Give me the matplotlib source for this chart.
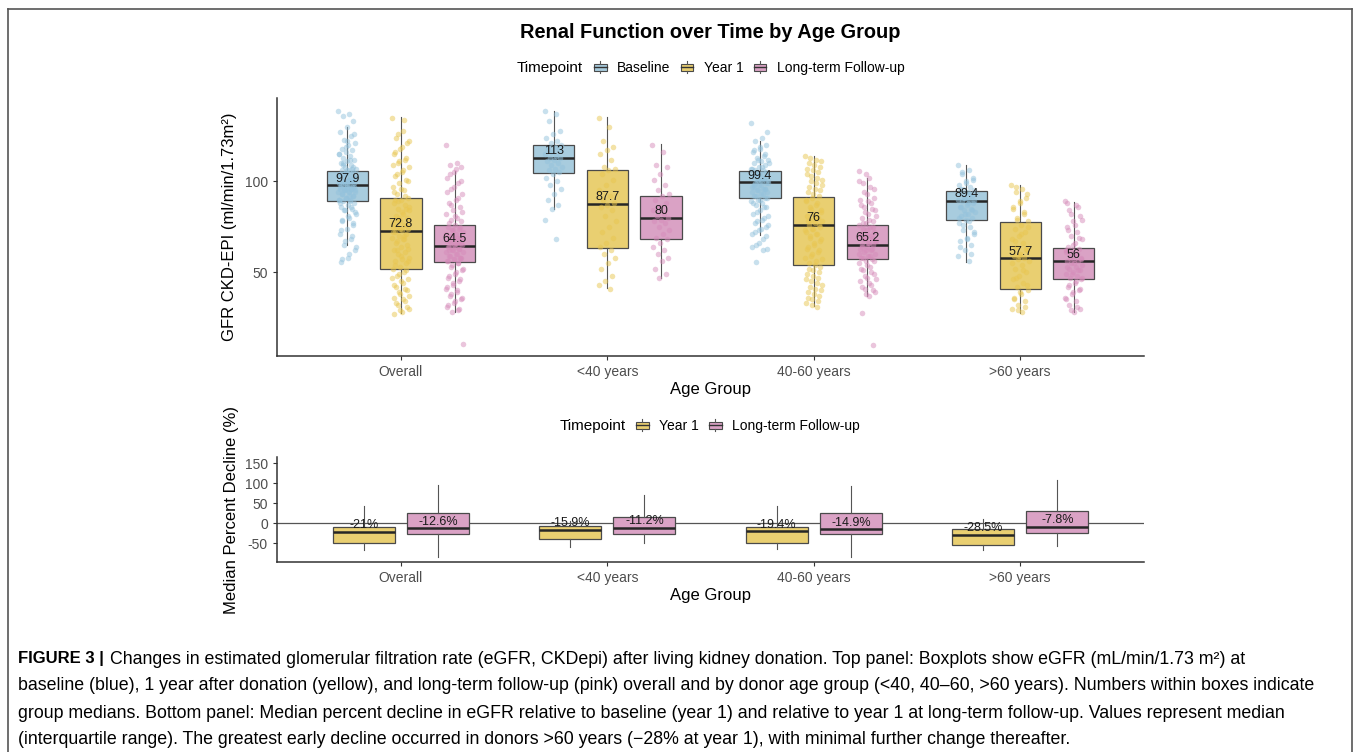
import matplotlib
matplotlib.use("Agg")
import matplotlib.pyplot as plt
from matplotlib.patches import Rectangle, Patch
from matplotlib.lines import Line2D
from matplotlib.legend_handler import HandlerBase

plt.rcParams['font.family'] = ['Liberation Sans', 'DejaVu Sans']
plt.rcParams['axes.unicode_minus'] = False

groups = ["Overall", "<40 years", "40-60 years", ">60 years"]
timepoints = ["Baseline", "Year 1", "Long-term Follow-up"]

# top panel: eGFR box stats per age group
base_med = [97.9, 113, 99.4, 89.4]
base_q1 = [89.0, 104.8, 90.7, 79.0]
base_q3 = [105.7, 120.0, 105.7, 94.7]
base_lo = [65.0, 84.8, 70.2, 55.5]
base_hi = [130.0, 138.5, 122.4, 108.8]

y1_med = [72.8, 87.7, 76, 57.7]
y1_q1 = [51.7, 63.2, 53.8, 41.0]
y1_q3 = [90.7, 106.3, 91.2, 77.9]
y1_lo = [27.5, 41.2, 31.2, 27.5]
y1_hi = [135.2, 135.2, 113.7, 97.8]

lt_med = [64.5, 80, 65.2, 56]
lt_q1 = [55.5, 68.0, 57.0, 46.0]
lt_q3 = [75.8, 92.1, 76.0, 63.4]
lt_lo = [28.0, 47.0, 36.8, 28.0]
lt_hi = [105.5, 120.5, 101.9, 88.7]

# individual donors (approximate, read off the jittered clouds)
ov_base = [139, 137, 136, 133, 130, 127, 125, 123, 121, 120, 118, 117, 116, 115, 114, 113, 112, 111, 110, 109,
           108, 107, 106, 106, 105, 104, 104, 103, 102, 102, 101, 100, 100, 99, 99, 98, 98, 97, 97, 96, 96, 95,
           94, 94, 93, 92, 91, 90, 90, 89, 88, 87, 86, 85, 84, 82, 80, 78, 76, 74, 71, 68, 65, 62, 58, 55.5,
           107, 105, 103, 101, 100, 99, 98, 97, 96, 95, 95, 94, 93, 92, 91, 90, 89, 104, 102, 100, 98, 97, 96,
           94, 92, 110, 108, 106, 88, 86, 84, 83, 81, 79, 77, 119, 115, 112, 109, 126, 122, 73, 70, 67, 64, 60, 57]
ov_y1 = [135, 128, 124, 121, 118, 115, 112, 110, 108, 105, 103, 101, 99, 97, 95, 93, 91, 90, 88, 87, 85, 84, 82,
         81, 80, 78, 77, 76, 75, 74, 73, 72, 71, 70, 69, 68, 66, 65, 64, 62, 61, 60, 58, 57, 56, 55, 53, 52, 50,
         48, 46, 45, 43, 41, 39, 37, 35, 33, 31, 29, 27,
         134, 126, 122, 119, 116, 113, 111, 109, 106, 104, 100, 96, 94, 92, 89, 86, 83, 79, 76, 74, 72, 70, 67,
         63, 59, 54, 51, 49, 47, 44, 42, 40, 38, 36, 34, 32, 30, 28, 90, 85, 80, 75, 68, 62, 56]
ov_lt = [120, 110, 109, 108, 105, 102, 99, 96, 93, 90, 88, 86, 84, 82, 80, 79, 78, 76, 75, 74, 73, 72, 71, 70, 69,
         68, 67, 66, 66, 65, 64, 64, 63, 62, 61, 60, 59, 58, 57, 56, 55, 54, 52, 50, 48, 46, 44, 42, 40, 38, 36,
         34, 32, 30, 28, 10.3,
         107, 104, 100, 97, 94, 91, 87, 83, 81, 77, 75, 73, 71, 69, 67, 66, 65, 64, 63, 62, 61, 60, 59, 58, 57,
         56, 55, 53, 51, 49, 47, 45, 43, 41, 39, 37, 35, 33, 31, 29, 70, 68, 66, 62, 58]
u40_base = [139, 137, 133, 128, 126, 124, 122, 121, 120, 119, 118, 117, 116, 115, 114, 113, 113, 112, 111, 110,
            109, 108, 107, 106, 105, 104, 102, 100, 98, 96, 93, 90, 87, 85, 79, 68]
u40_y1 = [135, 130, 122, 119, 117, 115, 112, 108, 107, 106, 104, 101, 98, 95, 92, 90, 88, 87, 86, 84, 81, 78, 75,
          72, 69, 66, 64, 62, 60, 58, 55, 52, 48, 45, 43, 41]
u40_lt = [120, 116, 109, 108, 104, 101, 98, 95, 93, 92, 90, 88, 86, 84, 82, 81, 80, 79, 78, 77, 75, 73, 71, 69,
          68, 66, 64, 62, 60, 58, 56, 52, 49, 47]
mid_base = [132, 124, 122, 120, 118, 116, 114, 113, 112, 111, 110, 109, 108, 107, 106, 105, 104, 104, 103, 102,
            101, 101, 100, 99, 99, 98, 97, 96, 95, 94, 93, 92, 91, 90, 89, 88, 87, 86, 84, 82, 80, 78, 76, 74,
            72, 70, 66, 64, 62, 55.5,
            127, 119, 117, 115, 112, 110, 108, 106, 105, 104, 103, 102, 100, 99, 98, 97, 96, 95, 94, 93, 92, 91,
            90, 88, 86, 83, 81, 79, 77, 75, 73, 71, 68, 65, 63, 101, 98, 96, 103, 107]
mid_y1 = [114, 112, 110, 108, 106, 104, 102, 100, 98, 96, 94, 92, 91, 89, 87, 86, 84, 82, 81, 80, 79, 78, 77, 76,
          75, 74, 72, 71, 70, 68, 66, 64, 62, 60, 58, 56, 55, 53, 51, 49, 47, 45, 43, 41, 39, 37, 35, 33, 31,
          113, 111, 109, 107, 105, 103, 101, 99, 97, 95, 93, 90, 88, 85, 83, 80, 78, 76, 74, 73, 71, 69, 67, 65,
          63, 61, 59, 57, 54, 52, 50, 48, 46, 44, 42, 40, 38, 36, 34, 32]
mid_lt = [105.5, 102, 99, 96, 93, 90, 88, 86, 84, 82, 80, 78, 77, 76, 75, 74, 72, 71, 70, 69, 68, 67, 66, 65, 65,
          64, 63, 62, 61, 60, 59, 58, 57, 56, 55, 53, 51, 49, 47, 45, 43, 41, 39, 37, 27.7, 10.1,
          104, 100, 97, 94, 91, 89, 87, 85, 83, 81, 79, 77, 75, 73, 71, 70, 68, 67, 66, 64, 63, 62, 60, 59, 58,
          56, 54, 52, 50, 48, 46, 44, 42, 40, 38]
o60_base = [109, 106, 104, 102, 100, 98, 97, 96, 95, 94, 93, 92, 91, 90, 90, 89, 88, 87, 86, 85, 84, 83, 82, 81,
            80, 79, 77, 75, 73, 71, 69, 67, 65, 62, 59, 56,
            105, 101, 99, 96, 93, 91, 89, 88, 86, 84, 82, 80, 78, 76, 72, 68, 64, 60]
o60_y1 = [98, 96, 94, 91, 88, 85, 82, 80, 78, 76, 74, 72, 70, 68, 66, 64, 62, 60, 59, 58, 57, 56, 54, 52, 50, 48,
          46, 44, 42, 40, 38, 36, 34, 32, 30, 28,
          97, 93, 89, 86, 83, 79, 75, 71, 67, 63, 59, 55, 51, 47, 43, 39, 35, 31, 29]
o60_lt = [89, 87, 84, 81, 78, 75, 72, 70, 68, 66, 64, 63, 62, 61, 60, 59, 58, 57, 56, 56, 55, 54, 53, 52, 51, 50,
          49, 48, 47, 46, 44, 42, 40, 38, 36, 34, 32, 30, 28,
          88, 86, 82, 79, 76, 73, 69, 65, 62, 60, 58, 57, 55, 53, 51, 49, 47, 45, 43, 41, 39, 35, 31, 29]

# bottom panel: percent decline box stats
y1_dmed = [-21, -15.9, -19.4, -28.5]
y1_dq1 = [-48.3, -38.3, -48.3, -52.5]
y1_dq3 = [-8.3, -5.8, -8.3, -15.0]
y1_dlo = [-65, -59, -64, -66]
y1_dhi = [43, 6.7, 43, 10.8]

lt_dmed = [-12.6, -11.2, -14.9, -7.8]
lt_dq1 = [-26.7, -25.8, -26.7, -24.2]
lt_dq3 = [26.7, 16.7, 26.7, 31.5]
lt_dlo = [-83, -50, -83, -56]
lt_dhi = [95, 70.8, 94, 108]

caption_lines = [
    "Changes in estimated glomerular filtration rate (eGFR, CKDepi) after living kidney donation. Top panel: Boxplots show eGFR (mL/min/1.73 m\u00b2) at",
    "baseline (blue), 1 year after donation (yellow), and long-term follow-up (pink) overall and by donor age group (<40, 40\u201360, >60 years). Numbers within boxes indicate",
    "group medians. Bottom panel: Median percent decline in eGFR relative to baseline (year 1) and relative to year 1 at long-term follow-up. Values represent median",
    "(interquartile range). The greatest early decline occurred in donors >60 years (\u221228% at year 1), with minimal further change thereafter.",
]

box_fill = {"Baseline": "#A8CCDE", "Year 1": "#E9CF71", "Long-term Follow-up": "#DAA2C5"}
pt_col = {"Baseline": "#93C2DC", "Year 1": "#E8C650", "Long-term Follow-up": "#D68CBA"}
edge = "#4a4a4a"

W, H = 1356, 752
fig = plt.figure(figsize=(W / 100, H / 100), dpi=100)


def fx(px):
    return px / W


def fy(py):
    return 1 - py / H


def make_stats(med, q1, q3, lo, hi):
    return [dict(med=med[i], q1=q1[i], q3=q3[i], whislo=lo[i], whishi=hi[i]) for i in range(len(med))]


def draw_boxes(ax, stats, pos, width, color):
    ax.bxp(stats, positions=pos, widths=width, patch_artist=True, showfliers=False, showcaps=False,
           boxprops=dict(facecolor=color, edgecolor=edge, linewidth=0.9),
           medianprops=dict(color="#262626", linewidth=1.8),
           whiskerprops=dict(color="#555555", linewidth=0.8), manage_ticks=False, zorder=2)


def label_medians(ax, pos, med, fmt):
    for x, m in zip(pos, med):
        ax.annotate(fmt % m, (x, m), xytext=(0, 4.8), textcoords="offset points", ha="center", va="center",
                    fontsize=9, color="#1a1a1a", zorder=5)


def style_axes(ax):
    for s in ["top", "right"]:
        ax.spines[s].set_visible(False)
    for s in ["left", "bottom"]:
        ax.spines[s].set_color("#333333")
        ax.spines[s].set_linewidth(1.1)
    ax.tick_params(axis="both", colors="#333333", labelcolor="#4d4d4d", labelsize=10, length=3, width=0.8)
    ax.set_xticks(range(1, 5))
    ax.set_xticklabels(groups)
    ax.set_xlim(0.4, 4.6)
    ax.set_xlabel("Age Group", fontsize=12, labelpad=2)


class BoxKey(HandlerBase):
    def create_artists(self, legend, orig_handle, xdescent, ydescent, width, height, fontsize, trans):
        fc = orig_handle.get_facecolor()
        x0, y0 = -xdescent, -ydescent
        r = Rectangle((x0, y0 + 0.2 * height), width, 0.6 * height, facecolor=fc, edgecolor=edge, lw=0.8,
                      transform=trans)
        m = Line2D([x0, x0 + width], [y0 + 0.5 * height] * 2, color="#333333", lw=1.0, transform=trans)
        w1 = Line2D([x0 + width / 2] * 2, [y0, y0 + 0.2 * height], color="#555555", lw=0.8, transform=trans)
        w2 = Line2D([x0 + width / 2] * 2, [y0 + 0.8 * height, y0 + height], color="#555555", lw=0.8,
                    transform=trans)
        return [r, m, w1, w2]


def add_legend(names, title_x, key_x, y):
    fig.text(fx(title_x), fy(y), "Timepoint", fontsize=11, ha="left", va="center")
    handles = [Patch(facecolor=box_fill[n]) for n in names]
    fig.legend(handles, names, loc="center left", bbox_to_anchor=(fx(key_x), fy(y)), ncol=len(names),
               frameon=False, fontsize=10, handler_map={Patch: BoxKey()}, handlelength=0.9, handleheight=1.0,
               handletextpad=0.75, columnspacing=0.75, borderpad=0, borderaxespad=0)


# ---- top panel
ax1 = fig.add_axes([fx(277), fy(356), fx(1144 - 277), (356 - 98) / H])
pos = [1, 2, 3, 4]
dodge = 0.26
top_sets = [
    ("Baseline", make_stats(base_med, base_q1, base_q3, base_lo, base_hi), base_med, [ov_base, u40_base, mid_base, o60_base], -dodge),
    ("Year 1", make_stats(y1_med, y1_q1, y1_q3, y1_lo, y1_hi), y1_med, [ov_y1, u40_y1, mid_y1, o60_y1], 0),
    ("Long-term Follow-up", make_stats(lt_med, lt_q1, lt_q3, lt_lo, lt_hi), lt_med, [ov_lt, u40_lt, mid_lt, o60_lt], dodge),
]
for name, stats, med, pts, off in top_sets:
    p = [x + off for x in pos]
    draw_boxes(ax1, stats, p, 0.2, box_fill[name])
    for x, vals in zip(p, pts):
        jit = [x + ((i * 0.61803) % 1 - 0.5) * 0.085 for i in range(len(vals))]
        ax1.scatter(jit, vals, s=16, color=pt_col[name], alpha=0.5, linewidths=0, zorder=3)
    label_medians(ax1, p, med, "%g")
style_axes(ax1)
ax1.set_ylim(3.85, 145.9)
ax1.set_yticks([50, 100])
ax1.set_ylabel("GFR CKD-EPI (ml/min/1.73m\u00b2)", fontsize=12, labelpad=6)

# ---- bottom panel
ax2 = fig.add_axes([fx(277), fy(562), fx(1144 - 277), (562 - 457) / H])
ax2.axhline(0, color="#555555", lw=0.9, zorder=1)
d2 = 0.18
bot_sets = [
    ("Year 1", make_stats(y1_dmed, y1_dq1, y1_dq3, y1_dlo, y1_dhi), y1_dmed, -d2),
    ("Long-term Follow-up", make_stats(lt_dmed, lt_dq1, lt_dq3, lt_dlo, lt_dhi), lt_dmed, d2),
]
for name, stats, med, off in bot_sets:
    p = [x + off for x in pos]
    draw_boxes(ax2, stats, p, 0.3, box_fill[name])
    label_medians(ax2, p, med, "%g%%")
style_axes(ax2)
ax2.set_ylim(-96, 165)
ax2.set_yticks([-50, 0, 50, 100, 150])
ax2.set_ylabel("Median Percent Decline (%)", fontsize=12, labelpad=4)

# titles and legends
fig.text(fx(710), fy(33), "Renal Function over Time by Age Group", fontsize=14.4, fontweight="bold",
         ha="center", va="center")
add_legend(timepoints, 517, 594, 68)
add_legend(timepoints[1:], 560, 636, 426)

# caption
cap_y = [659, 686, 714, 740]
fig.text(fx(18), fy(cap_y[0]), "FIGURE 3 |", fontsize=12, fontweight="bold", ha="left", va="center")
fig.text(fx(110), fy(cap_y[0]), caption_lines[0], fontsize=12.8, ha="left", va="center")
for line, y in zip(caption_lines[1:], cap_y[1:]):
    fig.text(fx(18), fy(y), line, fontsize=12.8, ha="left", va="center")

# page frame
for xs, ys in [([8, 1352], [9, 9]), ([8, 8], [9, 752]), ([1352, 1352], [9, 752])]:
    fig.add_artist(Line2D([fx(v) for v in xs], [fy(v) for v in ys], color="#555555", lw=1.2))

fig.savefig("out.png", dpi=100)
